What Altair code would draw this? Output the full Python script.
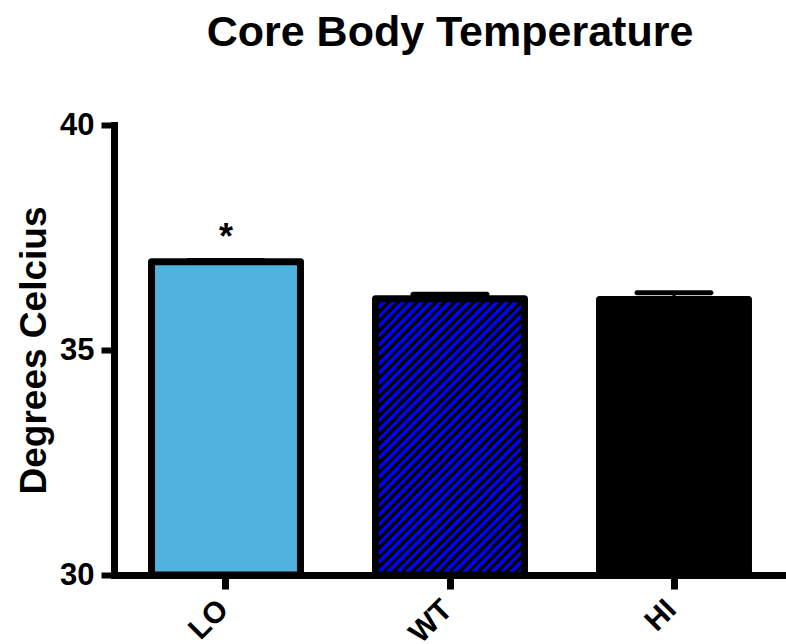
import altair as alt
import pandas as pd

# ---- data ----
groups = ["LO", "WT", "HI"]
means = [36.96, 36.14, 36.12]
errors = [0.03, 0.10, 0.15]
signif = ["*", "", ""]
fills = ["#50b2de", "#0000ff", "#000000"]

df = pd.DataFrame({"group": groups, "mean": means, "err": errors, "sig": signif})
df["upper"] = df["mean"] + df["err"]

FONT = "Liberation Sans"
YTITLE = "Degrees Celcius"

# diagonal stripes for WT (blue / black), built as a hard-stop gradient
n_stripes = 45
stops = []
for i in range(n_stripes):
    a = i / n_stripes
    m = (i + 0.5) / n_stripes
    b = (i + 1) / n_stripes
    stops += [
        alt.GradientStop(offset=a, color="#0000ff"),
        alt.GradientStop(offset=m, color="#0000ff"),
        alt.GradientStop(offset=m, color="#000000"),
        alt.GradientStop(offset=b, color="#000000"),
    ]
stripes = alt.LinearGradient(gradient="linear", stops=stops, x1=0, y1=0, x2=0.644, y2=1.192)

xscale = alt.Scale(domain=groups, paddingInner=0.335, paddingOuter=0.1675)
yscale = alt.Scale(domain=[30, 40], zero=False, nice=False)

xaxis = alt.Axis(
    title=None, labelAngle=-45, labelFont=FONT, labelFontSize=30, labelFontWeight="bold",
    labelColor="black", labelPadding=5, labelOffset=-13, domainColor="black", domainWidth=7,
    domainCap="square", tickColor="black", tickWidth=7, tickSize=14, grid=False,
)
yaxis = alt.Axis(
    title=YTITLE, values=[30, 35, 40], labelFont=FONT, labelFontSize=31,
    labelFontWeight="bold", labelColor="black", labelPadding=7, domainColor="black",
    domainWidth=7, domainCap="square", tickColor="black", tickWidth=6, tickSize=13,
    grid=False, titleFont=FONT, titleFontSize=37, titleFontWeight="bold",
    titleColor="black", titlePadding=6,
)

X = alt.X("group:N", sort=groups, scale=xscale, axis=xaxis)

def Y(field):
    return alt.Y(f"{field}:Q", scale=yscale, axis=yaxis)

base = alt.Chart(df)

fill_layer = base.mark_bar(strokeWidth=0).encode(
    x=X, y=Y("mean"), y2=alt.datum(30),
    color=alt.Color("group:N", scale=alt.Scale(domain=groups, range=fills), legend=None),
)

stripe_layer = base.transform_filter(alt.datum.group == "WT").mark_bar(
    fill=stripes, strokeWidth=0
).encode(x=X, y=Y("mean"), y2=alt.datum(30))

outline_layer = base.mark_bar(
    fill="transparent", stroke="black", strokeWidth=7, strokeJoin="round"
).encode(x=X, y=Y("mean"), y2=alt.datum(30))

stem_layer = base.mark_rule(color="black", strokeWidth=3).encode(
    x=X, y=Y("mean"), y2="upper:Q"
)

cap_layer = base.mark_tick(
    orient="horizontal", color="black", size=79, thickness=5, cornerRadius=2.5, opacity=1
).encode(x=X, y=Y("upper"))

sig_layer = base.mark_text(
    font=FONT, fontSize=36, fontWeight="bold", color="black", baseline="alphabetic",
    align="center", dy=-11,
).encode(x=X, y=Y("upper"), text="sig:N")

chart = alt.layer(
    fill_layer, stripe_layer, outline_layer, stem_layer, cap_layer, sig_layer
).properties(
    width=672,
    height=450,
    title=alt.TitleParams(
        "Core Body Temperature", font=FONT, fontSize=43, fontWeight="bold",
        color="black", anchor="middle", frame="group", baseline="alphabetic", offset=20,
    ),
    autosize=alt.AutoSizeParams(type="none"),
    padding={"left": 114, "top": 125, "right": 0, "bottom": 69},
    background="white",
).configure_view(stroke=None)

chart.save("out.html", embed_options={"renderer": "svg", "actions": False})
